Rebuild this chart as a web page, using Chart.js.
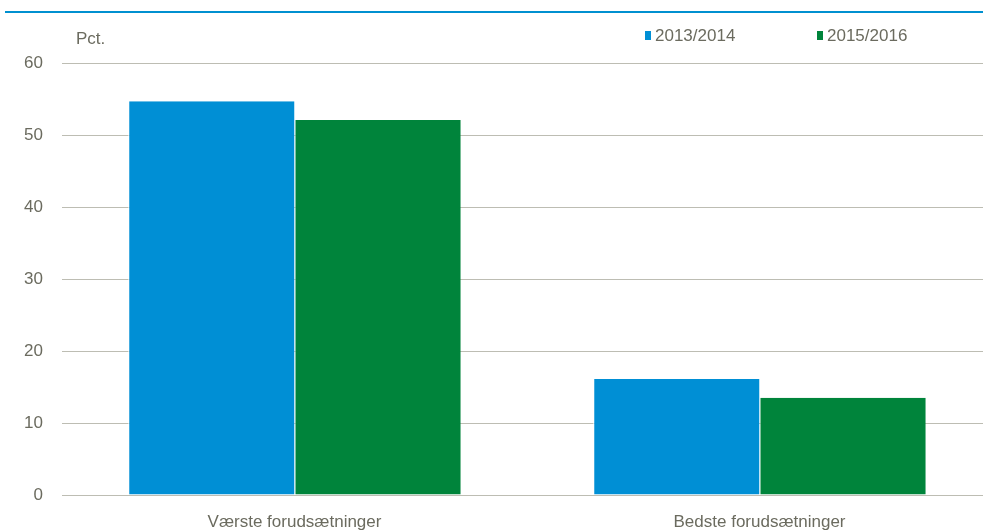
<!DOCTYPE html>
<html>
<head>
<meta charset="utf-8">
<script src="https://cdn.jsdelivr.net/npm/chart.js@4/dist/chart.umd.min.js"></script>
<style>
  html, body { margin: 0; padding: 0; background: #fff; overflow: hidden; }
  #wrap { width: 992px; height: 532px; }
</style>
</head>
<body>
<div id="wrap"><canvas id="chart"></canvas></div>
<script>
// Data
const categories = ["Værste forudsætninger", "Bedste forudsætninger"];
const seriesNames = ["2013/2014", "2015/2016"];
const values2013 = [54.7, 16.1];
const values2015 = [52.1, 13.5];
const seriesColors = ["#008fd5", "#00843b"];

const FONT = '"Liberation Sans Narrow", "Arial Narrow", "Liberation Sans", sans-serif';
const TEXT = "#6b6b5f";

// Extra decorations: top rule, unit label, legend
const decor = {
    id: "decor",
    afterDraw(chart) {
        const ctx = chart.ctx;
        ctx.save();
        ctx.fillStyle = "#0090d0";
        ctx.fillRect(5, 11, 987, 2);
        ctx.font = "17px " + FONT;
        ctx.fillStyle = TEXT;
        ctx.textBaseline = "middle";
        ctx.fillText("Pct.", 76, 39);
        const legX = [645, 817];
        chart.data.datasets.forEach((ds, i) => {
            ctx.fillStyle = ds.backgroundColor;
            ctx.fillRect(legX[i], 31, 6, 9);
            ctx.fillStyle = TEXT;
            ctx.fillText(ds.label, legX[i] + 10, 36);
        });
        ctx.restore();
    }
};

new Chart(document.getElementById("chart"), {
    type: "bar",
    data: {
        labels: categories,
        datasets: [
            { label: seriesNames[0], data: values2013, backgroundColor: seriesColors[0] },
            { label: seriesNames[1], data: values2015, backgroundColor: seriesColors[1] }
        ]
    },
    options: {
        responsive: true,
        maintainAspectRatio: false,
        animation: false,
        layout: { padding: { top: 63, left: 0, right: 0, bottom: 0 } },
        datasets: {
            bar: {
                barPercentage: 1,
                categoryPercentage: 0.715,
                borderColor: "#ffffff",
                borderWidth: { left: 1, right: 0, top: 0, bottom: 0 },
                borderSkipped: false
            }
        },
        plugins: {
            legend: { display: false },
            tooltip: { enabled: false }
        },
        scales: {
            x: {
                grid: { display: false, drawTicks: false },
                border: { display: false },
                ticks: { color: TEXT, font: { family: FONT, size: 17 }, padding: 17 },
                afterFit(scale) { scale.height = 37; }
            },
            y: {
                min: 0,
                max: 60,
                ticks: { stepSize: 10, color: TEXT, font: { family: FONT, size: 17 }, padding: 19 },
                grid: { color: "#bdbdb3", lineWidth: 1, drawTicks: false },
                border: { display: false },
                afterFit(scale) { scale.width = 62; }
            }
        }
    },
    plugins: [decor]
});
</script>
</body>
</html>
